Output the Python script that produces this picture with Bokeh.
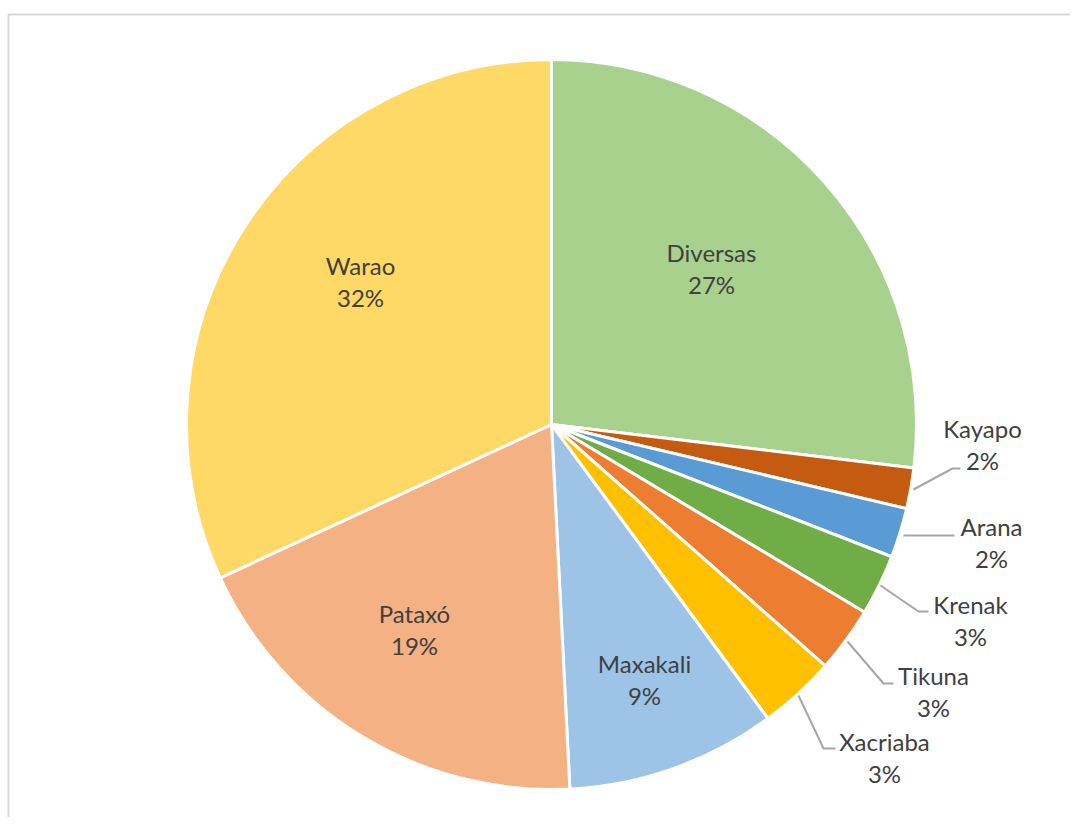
import math
from bokeh.plotting import figure
from bokeh.models import Range1d, ColumnDataSource
from bokeh.core.properties import value
from bokeh.embed import file_html
from bokeh.resources import INLINE

# ---- data (percent shares) ----
categories = ["Diversas", "Kayapo", "Arana", "Krenak", "Tikuna", "Xacriaba", "Maxakali", "Pataxó", "Warao"]
shares = [26.9, 1.8, 2.2, 2.7, 2.9, 3.4, 9.3, 18.9, 31.9]
colors = ["#A9D18E", "#C55A11", "#5B9BD5", "#70AD47", "#ED7D31", "#FFC000", "#9DC3E6", "#F4B183", "#FFD966"]

# ---- layout (pixel positions as seen in the picture) ----
W, H = 1070, 817
def X(sx):
    return sx
def Y(sy):
    return H - sy

CX, CY, R = 551, 424, 365
label_centers = {
    "Diversas": (711, 268), "Warao": (360, 281), "Pataxó": (414, 629), "Maxakali": (644, 679),
    "Kayapo": (982, 444), "Arana": (991, 542), "Krenak": (970, 620), "Tikuna": (933, 691),
    "Xacriaba": (884, 757),
}
leaders = {
    "Kayapo": [(913, 489), (952, 468), (960, 468)],
    "Arana": [(903, 535), (954, 535)],
    "Krenak": [(880, 585), (918, 611), (928, 611)],
    "Tikuna": [(847, 641), (883, 683), (893, 683)],
    "Xacriaba": [(798, 695), (823, 748), (835, 748)],
}

total = sum(shares)
starts, ends = [], []
cum = 0.0
for s in shares:
    a0 = math.pi / 2 - 2 * math.pi * cum / total
    cum += s
    a1 = math.pi / 2 - 2 * math.pi * cum / total
    starts.append(a1)
    ends.append(a0)

src = ColumnDataSource(dict(cat=categories, share=shares, color=colors, start=starts, end=ends))

p = figure(width=W, height=H, output_backend="svg", toolbar_location=None,
           x_range=Range1d(0, W), y_range=Range1d(0, H),
           x_axis_location=None, y_axis_location=None, min_border=0)
p.grid.visible = False
p.outline_line_color = None
p.background_fill_color = "white"
p.border_fill_color = "white"

# chart frame (light grey, top and left visible)
p.line(x=[X(8), X(8), W + 10], y=[-10, Y(14), Y(14)], line_color="#D9D9D9", line_width=2)

p.wedge(x=X(CX), y=Y(CY), radius=R, start_angle="start", end_angle="end",
        fill_color="color", line_color="white", line_width=3, source=src)

# leader lines
xs, ys = [], []
for name, pts in leaders.items():
    xs.append([X(a) for a, b in pts])
    ys.append([Y(b) for a, b in pts])
p.multi_line(xs=xs, ys=ys, line_color="#A6A6A6", line_width=2)

# labels
nx, ny, nt, px_, py_, pt = [], [], [], [], [], []
for c, s in zip(categories, shares):
    lx, ly = label_centers[c]
    nx.append(X(lx)); ny.append(Y(ly - 16)); nt.append(c)
    px_.append(X(lx)); py_.append(Y(ly + 16)); pt.append(f"{round(s / total * 100)}%")
for xx, yy, tt in ((nx, ny, nt), (px_, py_, pt)):
    p.text(x=xx, y=yy, text=tt, text_font=value("Lato"), text_font_size="24px",
           text_color="#404040", text_align="center", text_baseline="middle")

open("out.html", "w").write(file_html(p, INLINE))
